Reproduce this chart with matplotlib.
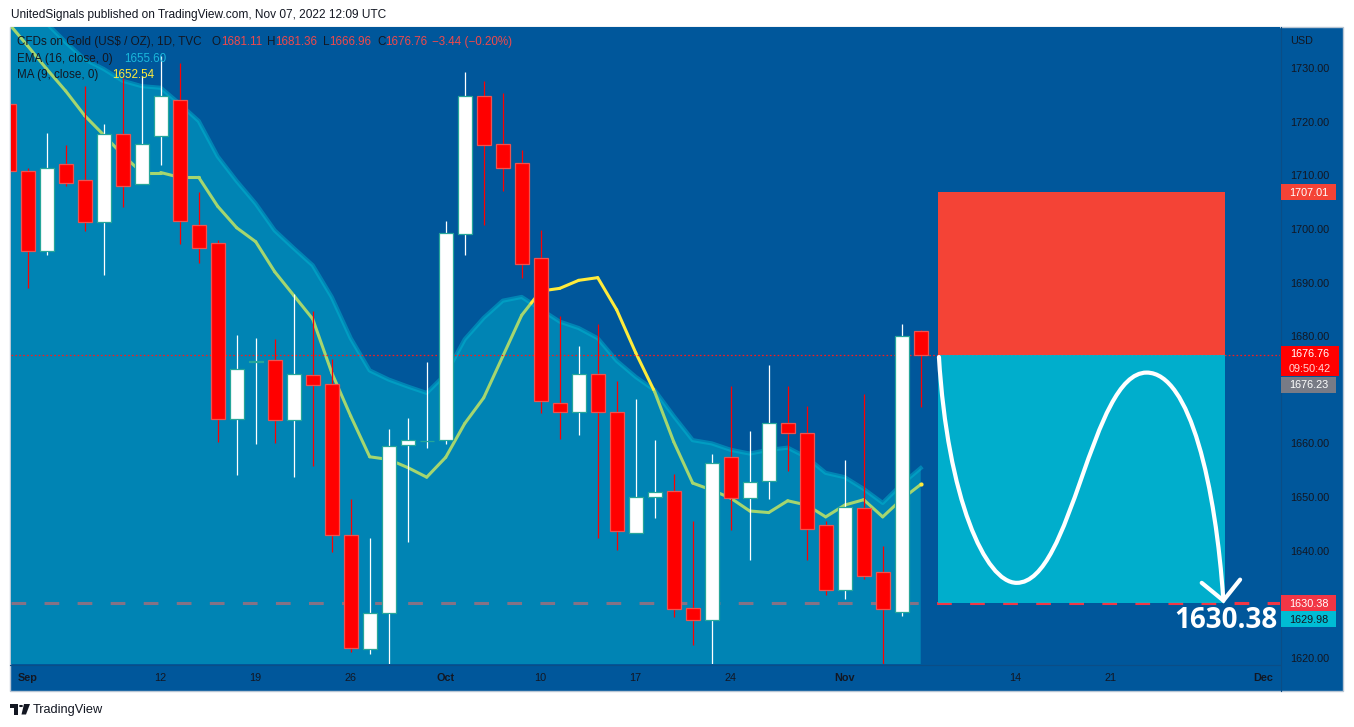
import numpy as np
import matplotlib
matplotlib.use('Agg')
import matplotlib.pyplot as plt
from matplotlib.patches import Rectangle, PathPatch, Polygon, Circle
from matplotlib.path import Path
from matplotlib.lines import Line2D
from matplotlib.collections import LineCollection
from matplotlib import font_manager

plt.rcParams['lines.scale_dashes'] = False

# ---------------- data ----------------
DATES = ['2022-08-31', '2022-09-01', '2022-09-02', '2022-09-05', '2022-09-06', '2022-09-07',
         '2022-09-08', '2022-09-09', '2022-09-12', '2022-09-13', '2022-09-14', '2022-09-15',
         '2022-09-16', '2022-09-19', '2022-09-20', '2022-09-21', '2022-09-22', '2022-09-23',
         '2022-09-26', '2022-09-27', '2022-09-28', '2022-09-29', '2022-09-30', '2022-10-03',
         '2022-10-04', '2022-10-05', '2022-10-06', '2022-10-07', '2022-10-10', '2022-10-11',
         '2022-10-12', '2022-10-13', '2022-10-14', '2022-10-17', '2022-10-18', '2022-10-19',
         '2022-10-20', '2022-10-21', '2022-10-24', '2022-10-25', '2022-10-26', '2022-10-27',
         '2022-10-28', '2022-10-31', '2022-11-01', '2022-11-02', '2022-11-03', '2022-11-04',
         '2022-11-07']

OPEN = [1723.4, 1710.9, 1696.1, 1712.2, 1709.3, 1701.5, 1717.8, 1708.5, 1717.5, 1724.3,
        1701.0, 1697.5, 1664.7, 1675.3, 1675.7, 1664.5, 1672.9, 1671.2, 1643.2, 1621.8,
        1628.5, 1659.9, 1660.7, 1660.8, 1699.2, 1725.0, 1716.0, 1712.4, 1694.7, 1667.7,
        1666.0, 1673.1, 1666.0, 1643.5, 1650.2, 1651.3, 1629.6, 1627.2, 1657.6, 1650.0,
        1653.1, 1664.0, 1662.2, 1645.0, 1632.8, 1648.2, 1636.2, 1628.7, 1681.11]
HIGH = [1726.5, 1711.6, 1718.0, 1715.8, 1726.8, 1719.7, 1728.4, 1728.7, 1732.4, 1731.2,
        1707.1, 1698.1, 1680.5, 1679.9, 1679.6, 1688.0, 1684.9, 1675.9, 1649.9, 1642.5,
        1662.9, 1665.0, 1675.3, 1701.6, 1729.5, 1727.8, 1725.5, 1714.9, 1700.0, 1683.9,
        1678.4, 1682.4, 1671.8, 1668.5, 1660.9, 1654.5, 1645.7, 1658.2, 1670.9, 1662.5,
        1674.9, 1670.9, 1667.1, 1645.8, 1657.1, 1669.5, 1641.0, 1682.4, 1681.36]
LOW = [1709.0, 1689.1, 1695.4, 1708.1, 1699.8, 1691.6, 1704.3, 1708.5, 1712.1, 1697.3,
       1693.9, 1660.5, 1654.3, 1660.0, 1660.2, 1654.0, 1655.9, 1640.0, 1621.3, 1621.0,
       1617.5, 1641.9, 1659.4, 1660.0, 1695.4, 1700.9, 1707.2, 1691.0, 1665.9, 1661.1,
       1661.7, 1642.6, 1640.4, 1643.5, 1646.2, 1627.9, 1622.7, 1617.0, 1644.1, 1638.4,
       1649.9, 1655.0, 1638.4, 1632.0, 1631.1, 1635.0, 1618.5, 1628.0, 1666.96]
CLOSE = [1710.9, 1696.0, 1711.5, 1708.8, 1701.5, 1717.8, 1708.2, 1716.0, 1724.9, 1701.6,
         1696.7, 1664.7, 1674.0, 1675.6, 1664.5, 1673.2, 1671.1, 1643.1, 1622.1, 1628.5,
         1659.7, 1660.9, 1660.7, 1699.4, 1725.0, 1715.8, 1711.6, 1693.7, 1668.1, 1666.0,
         1673.1, 1666.0, 1643.8, 1650.2, 1651.2, 1629.4, 1627.2, 1656.6, 1650.0, 1653.0,
         1664.0, 1662.1, 1644.3, 1632.8, 1648.3, 1635.4, 1629.4, 1680.2, 1676.76]
EMA16 = [1747.0, 1742.5, 1738.5, 1735.0, 1731.8, 1730.0, 1727.8, 1726.8, 1726.5, 1723.5,
         1720.3, 1713.7, 1709.1, 1704.9, 1699.9, 1696.6, 1693.4, 1687.5, 1679.8, 1673.8,
         1672.1, 1670.8, 1669.6, 1673.1, 1679.6, 1683.6, 1686.8, 1687.5, 1685.2, 1682.9,
         1681.7, 1679.8, 1675.6, 1672.6, 1670.1, 1665.3, 1660.8, 1660.2, 1659.0, 1658.3,
         1659.0, 1659.4, 1657.6, 1654.7, 1653.9, 1651.7, 1649.1, 1652.6, 1655.6]
MA9 = [1738.5, 1734.3, 1730.0, 1725.9, 1721.3, 1717.7, 1714.0, 1710.7, 1710.7, 1709.8,
       1709.8, 1704.4, 1700.4, 1697.8, 1692.2, 1687.8, 1683.4, 1673.4, 1665.3, 1657.7,
       1657.2, 1655.7, 1653.9, 1657.6, 1663.9, 1668.7, 1676.4, 1684.1, 1688.6, 1689.1,
       1690.6, 1691.1, 1685.1, 1677.1, 1669.8, 1660.5, 1652.8, 1651.5, 1650.0, 1647.6,
       1647.3, 1649.5, 1648.7, 1646.5, 1648.7, 1649.7, 1646.5, 1649.8, 1652.54]

# 1670.00 is hidden behind the 1676.23 tag in the reference
PRICE_TICKS = [1620, 1630, 1640, 1650, 1660, 1680, 1690, 1700, 1710, 1720, 1730]
TICK_IDX = [0, 7, 12, 17, 22, 27, 32, 37, 43, 52, 57, 65]
TICK_LABELS = ['Sep', '12', '19', '26', 'Oct', '10', '17', '24', 'Nov', '14', '21', 'Dec']
TICK_BOLD = ['Sep', 'Oct', 'Nov', 'Dec']

STOP, ENTRY, TARGET = 1707.01, 1676.76, 1630.38
BID_PRICE, TARGET_ALT = 1676.23, 1629.98
BOX_START, BOX_END = 47.9, 63.0
# projected path anchors (bar index, price): start, trough, peak, end
WAVE_X = [47.96, 52.05, 58.89, 62.93]
WAVE_Y = [1676.3, 1634.2, 1673.4, 1630.9]

# ---------------- style ----------------
W, H = 1354, 727
BG = '#00579b'
TXT = '#131722'
CYAN = '#00bcd4'
RED_BODY = '#ff0000'
RED_EDGE = '#ef5350'
TEAL = '#26a69a'
GREEN = '#a5d66f'
YELLOW = '#ffeb3b'

names = {f.name for f in font_manager.fontManager.ttflist}
if 'Liberation Sans Narrow' in names:
    NARROW, K = 'Liberation Sans Narrow', 1.0
else:
    NARROW, K = 'Liberation Sans', 0.84
REG = 'Liberation Sans'
AXFS = 9.3 * K
LEGFS = 10.0 * K
HDRFS = 10.2 * K

fig = plt.figure(figsize=(W / 100, H / 100), dpi=100, facecolor='white')


def fx(px):
    return px / W


def fy(py):
    return 1 - py / H


AX_L, AX_R, AX_T, AX_B = 11, 1280, 27, 664
YTOP, YBOT = 1737.83, 1619.07
XMIN, XMAX = -0.879, 65.91


def py_of(p):
    return AX_T + (YTOP - p) / (YTOP - YBOT) * (AX_B - AX_T)


# frame background (price + time axis areas)
fig.add_artist(Rectangle((fx(10), fy(691)), (1343 - 10) / W, (691 - 27) / H,
                         transform=fig.transFigure, facecolor=BG, edgecolor='#b8c6d4',
                         lw=1.0, zorder=-2))

ax = fig.add_axes([fx(AX_L), fy(AX_B), (AX_R - AX_L) / W, (AX_B - AX_T) / H])
ax.set_facecolor(BG)
for s in ax.spines.values():
    s.set_visible(False)
ax.set_xticks([])
ax.set_yticks([])
ax.set_xlim(XMIN, XMAX)
ax.set_ylim(YBOT, YTOP)

x = np.busday_count('2022-09-01', np.array(DATES, dtype='datetime64[D]')).astype(float)
o = np.array(OPEN); h = np.array(HIGH); l = np.array(LOW); c = np.array(CLOSE)
ema = np.array(EMA16); ma = np.array(MA9)

# target dashed line (under the indicator fill)
ax.axhline(TARGET, color='#f23645', lw=2.2, dashes=(10.6, 13.2), zorder=1)

# EMA area + line
ax.fill_between(x, ema, YBOT - 10, color=CYAN, alpha=0.45, lw=0, zorder=2)
ax.plot(x, ema, color=CYAN, alpha=0.45, lw=3.0, solid_joinstyle='round', zorder=2.5)

# MA line: yellow above EMA, green below
segs_g, segs_y = [], []
for i in range(len(x) - 1):
    x0, x1 = x[i], x[i + 1]
    m0, m1 = ma[i], ma[i + 1]
    d0, d1 = ma[i] - ema[i], ma[i + 1] - ema[i + 1]
    if d0 * d1 < 0:
        t = d0 / (d0 - d1)
        xm, mm = x0 + t * (x1 - x0), m0 + t * (m1 - m0)
        (segs_y if d0 > 0 else segs_g).append([(x0, m0), (xm, mm)])
        (segs_y if d1 > 0 else segs_g).append([(xm, mm), (x1, m1)])
    else:
        (segs_y if d0 + d1 > 0 else segs_g).append([(x0, m0), (x1, m1)])
ax.add_collection(LineCollection(segs_g, colors=GREEN, lw=2.2, capstyle='round', zorder=3))
ax.add_collection(LineCollection(segs_y, colors=YELLOW, lw=2.2, capstyle='round', zorder=3))
ax.plot([x[-1]], [ma[-1]], 'o', color=YELLOW, ms=2, zorder=3.1)

# current price dotted line
ax.axhline(ENTRY, color='#ff1a1a', lw=0.9, dashes=(1.2, 1.6), zorder=3.5)

# candles
up = c >= o
wick_cols = np.where(up, '#ffffff', RED_BODY)
ax.vlines(x, l, h, colors=wick_cols, lw=0.9, zorder=4)
bottoms = np.minimum(o, c)
heights = np.abs(c - o)
ax.bar(x[up], heights[up], bottom=bottoms[up], width=0.72, color='#ffffff',
       edgecolor=TEAL, lw=0.9, zorder=5)
ax.bar(x[~up], heights[~up], bottom=bottoms[~up], width=0.72, color=RED_BODY,
       edgecolor=RED_EDGE, lw=0.9, zorder=5)

# long/short position boxes
ax.add_patch(Rectangle((BOX_START, ENTRY), BOX_END - BOX_START, STOP - ENTRY,
                       facecolor='#f44336', edgecolor='none', zorder=6))
ax.add_patch(Rectangle((BOX_START, TARGET), BOX_END - BOX_START, ENTRY - TARGET,
                       facecolor=CYAN, alpha=0.87, edgecolor='none', zorder=6))

# projected wave path
sx, tx, pxk, ex = WAVE_X
sy, ty, pyk, ey = WAVE_Y
a = 0.43 * (pxk - tx)
verts = [(sx, sy), (sx + 0.45, 1650.0), (tx - 1.65, ty), (tx, ty),
         (tx + a, ty), (pxk - a, pyk), (pxk, pyk),
         (pxk + 2.3, pyk), (ex - 0.4, 1652.0), (ex, ey)]
codes = [Path.MOVETO] + [Path.CURVE4] * 9
ax.add_patch(PathPatch(Path(verts, codes), facecolor='none', edgecolor='white',
                       lw=3.0, capstyle='round', joinstyle='round', zorder=7))
ax.plot([ex - 1.14, ex, ex + 0.88], [ey + 3.3, ey, ey + 3.9], color='white', lw=3.0,
        solid_capstyle='round', solid_joinstyle='miter', zorder=7)

# separators of the axis areas
fig.add_artist(Line2D([fx(10), fx(1280)], [fy(664.5), fy(664.5)], color='#0b4d86', lw=0.8, zorder=2))
fig.add_artist(Line2D([fx(1280.5), fx(1280.5)], [fy(27), fy(691)], color='#0b4d86', lw=0.8, zorder=2))

# price axis labels
for p in PRICE_TICKS:
    fig.text(fx(1310), fy(py_of(p)), f'{p:.2f}', ha='center', va='center',
             fontsize=AXFS, family=NARROW, color=TXT, zorder=3)
fig.text(fx(1290), fy(41), 'USD', ha='left', va='center', fontsize=AXFS,
         family=NARROW, color=TXT, zorder=3)

# time axis labels
for ti, tl in zip(TICK_IDX, TICK_LABELS):
    ax.text(ti, -14 / (AX_B - AX_T), tl, transform=ax.get_xaxis_transform(),
            ha='center', va='center', fontsize=AXFS, family=NARROW, color=TXT,
            fontweight='bold' if tl in TICK_BOLD else 'normal', clip_on=False)


def tag(y_top, height, right, face, lines):
    fig.add_artist(Rectangle((fx(1281), fy(y_top + height)), (right - 1281) / W, height / H,
                             transform=fig.transFigure, facecolor=face, edgecolor='none',
                             zorder=4))
    n = len(lines)
    for k, (s, col) in enumerate(lines):
        yc = y_top + height * (k + 0.5) / n
        fig.text(fx((1281 + right) / 2), fy(yc + 0.5), s, ha='center', va='center',
                 fontsize=AXFS, family=NARROW, color=col, zorder=5)


y_stop = py_of(STOP)
tag(y_stop - 8, 16, 1336, '#f44336', [(f'{STOP:.2f}', 'white')])
y_ent = py_of(ENTRY)
tag(y_ent - 9, 30, 1339, '#ff0000', [(f'{ENTRY:.2f}', 'white'), ('09:50:42', '#ffd9d9')])
tag(y_ent + 22, 16, 1336, '#787b86', [(f'{BID_PRICE:.2f}', 'white')])
y_tg = py_of(TARGET)
tag(y_tg - 8, 16, 1336, '#f23645', [(f'{TARGET:.2f}', 'white')])
tag(y_tg + 8, 16, 1336, CYAN, [(f'{TARGET_ALT:.2f}', TXT)])

# big target label
fig.text(fx(1278), fy(620), f'{TARGET:.2f}', ha='right', va='center', fontsize=20,
         fontweight='bold', family='Open Sans', color='white', zorder=6)

# legend (chained texts)
fig.canvas.draw()
R = fig.canvas.get_renderer()


def chain(x0, y0, parts, size=LEGFS):
    xx = x0
    for s, col in parts:
        t = fig.text(fx(xx), fy(y0), s, ha='left', va='center', fontsize=size,
                     family=NARROW, color=col, zorder=8)
        xx += t.get_window_extent(renderer=R).width


VAL_RED = '#f0494b'
chain(17, 42, [('CFDs on Gold (US$ / OZ), 1D, TVC', TXT)])
chain(212, 42, [('O', TXT), (f'{OPEN[-1]:.2f}', VAL_RED)])
chain(267, 42, [('H', TXT), (f'{HIGH[-1]:.2f}', VAL_RED)])
chain(323, 42, [('L', TXT), (f'{LOW[-1]:.2f}', VAL_RED)])
chain(377, 42, [('C', TXT), (f'{CLOSE[-1]:.2f}', VAL_RED)])
chain(432, 42, [('\u22123.44 (\u22120.20%)', VAL_RED)])
chain(17, 59, [('EMA (16, close, 0)', TXT)])
chain(124, 59, [(f'{EMA16[-1]:.2f}', '#1ab8dc')])
chain(17, 75, [('MA (9, close, 0)', TXT)])
chain(112.5, 75, [(f'{MA9[-1]:.2f}', YELLOW)])

# header
fig.text(fx(11), fy(15), 'UnitedSignals published on TradingView.com, Nov 07, 2022 12:09 UTC',
         ha='left', va='center', fontsize=HDRFS, family=NARROW, color=TXT)

# footer logo + text
LOGO = '#131722'
fig.add_artist(Rectangle((fx(10), fy(708)), 8 / W, 4 / H, transform=fig.transFigure,
                         facecolor=LOGO, edgecolor='none'))
fig.add_artist(Rectangle((fx(14), fy(714.5)), 4 / W, 10 / H, transform=fig.transFigure,
                         facecolor=LOGO, edgecolor='none'))
fig.add_artist(Circle((fx(21), fy(706)), 2.0 / W, transform=fig.transFigure,
                      facecolor=LOGO, edgecolor='none'))
fig.add_artist(Polygon([(fx(24), fy(704)), (fx(30), fy(704)), (fx(26), fy(714.5)),
                        (fx(21.5), fy(714.5))], closed=True, transform=fig.transFigure,
                       facecolor=LOGO, edgecolor='none'))
fig.text(fx(33), fy(709.5), 'TradingView', ha='left', va='center', fontsize=9.2,
         family=REG, color=TXT)

fig.savefig('out.png', dpi=100, facecolor='white')
